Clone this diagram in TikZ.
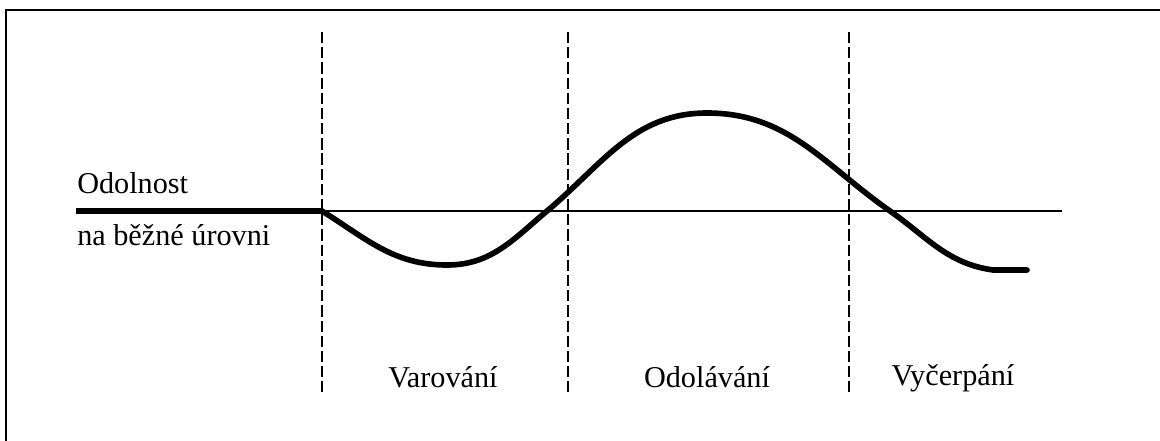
\documentclass[tikz,border=0pt]{standalone}
\usepackage{fontspec}
\setmainfont{Liberation Serif}
\usetikzlibrary{positioning}

\begin{document}
\begin{tikzpicture}[x=0.025cm,y=0.025cm,
  txt/.style={inner sep=0pt,font=\fontsize{21.5}{25}\selectfont},
  divider/.style={line width=1.7pt,dash pattern=on 8pt off 2.8pt},
  phase/.style={txt,anchor=base}]
\useasboundingbox (0,-441) rectangle (1160,0);
\draw[line width=1pt] (6,-441) -- (6,-10) -- (1160,-10);
% baseline and dividers
\coordinate (s) at (322,-211);
\coordinate (e) at (1062,-211);
\draw[line width=1.3pt] (s) -- (e);
\foreach \n/\x in {d1/322,d2/568,d3/849}
  \draw[divider] (\x,-32) coordinate (\n top) -- (\x,-392) coordinate (\n bot);
% labels
\node[txt,anchor=base west] (odol) at (77,-193) {Odolnost};
\node[txt,anchor=base west] (uroven) at (77,-245) {na běžné úrovni};
\node[phase] (var) at (443,-387) {Varování};
\node[phase] (odl) at (707,-387) {Odolávání};
\node[phase] (vyc) at (953,-385) {Vyčerpání};
% resistance curve
\coordinate (l) at (76,-211);
\draw[line width=4pt] (l) -- (s);
\draw[line width=4pt,line cap=round]
  (s) to[out=-32,in=180] (447,-265) to[out=0,in=220] (547,-211)
  to[out=40,in=180] (707,-113) to[out=0,in=145] (890,-211)
  to[out=-35,in=172] (993,-270) -- (1027,-270);
\end{tikzpicture}
\end{document}
